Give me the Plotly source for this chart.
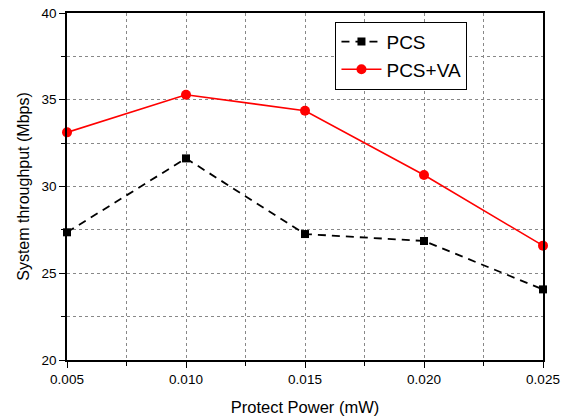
import plotly.graph_objects as go

x_power = [0.005, 0.010, 0.015, 0.020, 0.025]
pcs = [27.36, 31.62, 27.26, 26.86, 24.07]
pcs_va = [33.12, 35.29, 34.37, 30.66, 26.59]
x_ticks = [0.005, 0.010, 0.015, 0.020, 0.025]
x_ticktext = ["0.005", "0.010", "0.015", "0.020", "0.025"]
y_ticks = [20, 25, 30, 35, 40]

FONT = "Liberation Sans, Arial"

fig = go.Figure()
fig.add_trace(go.Scatter(
    x=x_power, y=pcs, name="PCS", mode="lines+markers",
    line=dict(color="black", width=1.8, dash="8px,6px"),
    marker=dict(symbol="square", size=8, color="black"),
    cliponaxis=False,
))
fig.add_trace(go.Scatter(
    x=x_power, y=pcs_va, name="PCS+VA", mode="lines+markers",
    line=dict(color="#ff0000", width=1.6),
    marker=dict(symbol="circle", size=10, color="#ff0000"),
    cliponaxis=False,
))

axis_common = dict(
    showline=True, linecolor="black", linewidth=1.5, mirror=True,
    ticks="outside", ticklen=6, tickwidth=1.2, tickcolor="black",
    showgrid=False, zeroline=False, automargin=False,
    tickfont=dict(family=FONT, size=13.5, color="black"),
)

fig.update_xaxes(
    range=[0.005, 0.025], tickvals=x_ticks, ticktext=x_ticktext,
    title=dict(text="Protect Power (mW)", font=dict(family=FONT, size=16.5, color="black")),
    minor=dict(dtick=0.0025, tick0=0.005, ticks="outside", ticklen=4, tickcolor="black",
               showgrid=True, griddash="dot", gridcolor="#888888", gridwidth=1),
    **axis_common,
)
fig.update_yaxes(
    range=[20, 40], tickvals=y_ticks,
    title=dict(text="System throughput (Mbps)", font=dict(family=FONT, size=16, color="black"), standoff=8),
    minor=dict(dtick=2.5, tick0=20, ticks="outside", ticklen=4, tickcolor="black",
               showgrid=True, griddash="dot", gridcolor="#888888", gridwidth=1),
    **axis_common,
)

fig.update_layout(
    width=569, height=418,
    margin=dict(l=67, r=26, t=13, b=58, autoexpand=False),
    paper_bgcolor="white", plot_bgcolor="white",
    showlegend=True,
    legend=dict(
        x=0.564, y=0.975, xanchor="left", yanchor="top",
        bgcolor="white", bordercolor="black", borderwidth=1,
        font=dict(family=FONT, size=19, color="black"),
        tracegroupgap=0, itemwidth=40,
    ),
)

fig.write_html(
    "out.html",
    config={"displayModeBar": False},
    post_script="document.body.style.margin='0';document.body.style.overflow='hidden';",
)
